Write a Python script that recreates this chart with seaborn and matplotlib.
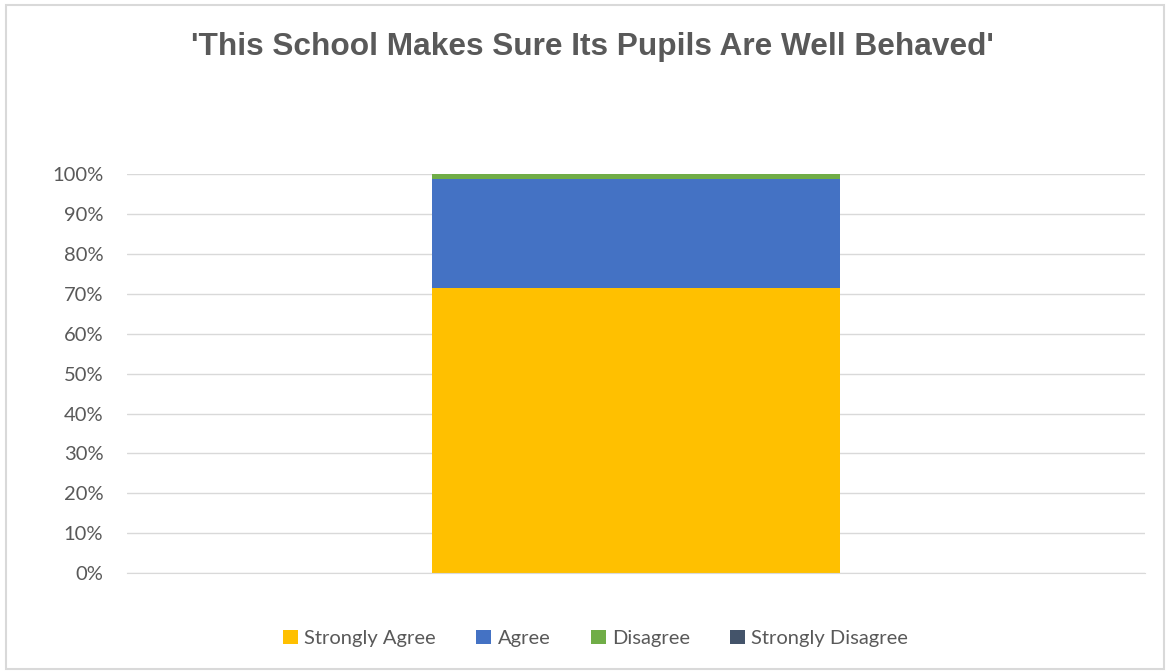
import matplotlib
matplotlib.use('Agg')
import matplotlib.pyplot as plt
import seaborn as sns
import pandas as pd
from matplotlib.patches import Patch, Rectangle
from matplotlib.ticker import PercentFormatter

# Values (percent of responses)
responses = ['Strongly Agree', 'Agree', 'Disagree', 'Strongly Disagree']
shares = [71.4, 27.3, 1.3, 0.0]
colors = ['#FFC000', '#4472C4', '#70AD47', '#44546A']
question = ['Q']

sns.set_style('white')
plt.rcParams['font.family'] = ['Lato', 'DejaVu Sans']

fig = plt.figure(figsize=(11.68, 6.72), dpi=100)
ax = fig.add_axes([0.1087, 0.147, 0.8716, 0.594])

# stacked bar: draw cumulative totals from the top layer down
cum = pd.Series(shares).cumsum().tolist()
for i in reversed(range(len(responses))):
    df = pd.DataFrame({'q': question, 'v': [cum[i]]})
    sns.barplot(data=df, x='q', y='v', color=colors[i], width=0.4,
                saturation=1, linewidth=0, ax=ax, zorder=2)

ax.set_xlim(-0.5, 0.5)
ax.set_ylim(0, 100)
ax.set_yticks(range(0, 101, 10))
ax.yaxis.set_major_formatter(PercentFormatter(decimals=0))
ax.grid(axis='y', color='#d9d9d9', linewidth=1, zorder=0)
ax.set_axisbelow(True)
for s in ['top', 'right', 'left']:
    ax.spines[s].set_visible(False)
ax.spines['bottom'].set_color('#d9d9d9')
ax.set_xticks([])
ax.set_xlabel('')
ax.set_ylabel('')
ax.tick_params(axis='y', labelsize=14.5, colors='#595959', length=0, pad=17)

fig.text(0.507, 0.93, "'This School Makes Sure Its Pupils Are Well Behaved'",
         ha='center', va='center', fontsize=22.8, fontweight='bold',
         color='#595959', family=['Liberation Sans', 'DejaVu Sans'])

handles = [Patch(facecolor=c, edgecolor='none') for c in colors]
fig.legend(handles, responses, loc='center', bbox_to_anchor=(0.51, 0.05),
           ncol=4, frameon=False, fontsize=14.5, handlelength=0.75,
           handleheight=0.75, handletextpad=0.3, columnspacing=2.0,
           labelcolor='#595959')

# light chart border
fig.patches.append(Rectangle((0.005, 0.004), 0.992, 0.988, transform=fig.transFigure,
                             fill=False, edgecolor='#d9d9d9', linewidth=1.5))

fig.savefig('out.png', dpi=100)
